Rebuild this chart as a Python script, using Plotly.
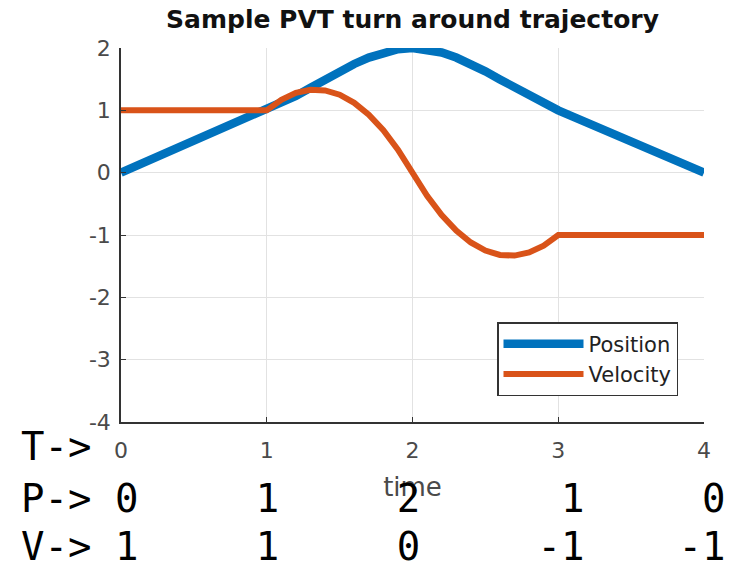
import plotly.graph_objects as go

# ---- data ----
time = [0.0, 0.1, 0.2, 0.3, 0.4, 0.5, 0.6, 0.7, 0.8, 0.9, 1.0,
        1.1, 1.2, 1.3, 1.4, 1.5, 1.6, 1.7, 1.8, 1.9, 2.0,
        2.1, 2.2, 2.3, 2.4, 2.5, 2.6, 2.7, 2.8, 2.9, 3.0,
        3.1, 3.2, 3.3, 3.4, 3.5, 3.6, 3.7, 3.8, 3.9, 4.0]
position = [0.0, 0.1, 0.2, 0.3, 0.4, 0.5, 0.6, 0.7, 0.8, 0.9, 1.0,
            1.109, 1.232, 1.363, 1.496, 1.625, 1.744, 1.847, 1.928, 1.981, 2.0,
            1.981, 1.928, 1.847, 1.744, 1.625, 1.496, 1.363, 1.232, 1.109, 1.0,
            0.9, 0.8, 0.7, 0.6, 0.5, 0.4, 0.3, 0.2, 0.1, 0.0]
velocity = [1.0, 1.0, 1.0, 1.0, 1.0, 1.0, 1.0, 1.0, 1.0, 1.0, 1.0,
            1.17, 1.28, 1.33, 1.32, 1.25, 1.12, 0.93, 0.68, 0.37, 0.0,
            -0.37, -0.68, -0.93, -1.12, -1.25, -1.32, -1.33, -1.28, -1.17, -1.0,
            -1.0, -1.0, -1.0, -1.0, -1.0, -1.0, -1.0, -1.0, -1.0, -1.0]

x_ticks = [0, 1, 2, 3, 4]
y_ticks = [2, 1, 0, -1, -2, -3, -4]

row_labels = ["T->", "P->", "V->"]
P_row = [0, 1, 2, 1, 0]
V_row = [1, 1, 0, -1, -1]

# ---- layout constants ----
W, H = 729, 566
ML, MR, MT, MB = 121, 25, 48, 144
BLUE = "#0072BD"
ORANGE = "#D95319"
AXC = "#333333"
TICKC = "#4a4a4a"
GRID = "#e2e2e2"

fig = go.Figure()
fig.add_trace(go.Scatter(x=time, y=position, mode="lines", name="Position",
                         line=dict(color=BLUE, width=8.5)))
fig.add_trace(go.Scatter(x=time, y=velocity, mode="lines", name="Velocity",
                         line=dict(color=ORANGE, width=6)))

axis_common = dict(
    showline=True, linecolor=AXC, linewidth=1.5, mirror=False,
    ticks="inside", ticklen=5, tickcolor=AXC, tickwidth=1.2,
    showgrid=True, gridcolor=GRID, gridwidth=1, zeroline=False,
    tickfont=dict(family="DejaVu Sans", size=22, color=TICKC),
)

fig.update_xaxes(range=[0, 4], tickvals=x_ticks, ticktext=[str(v) for v in x_ticks],
                 ticklabelstandoff=8,
                 title=dict(text="time", standoff=16,
                            font=dict(family="DejaVu Sans", size=26, color=TICKC)),
                 **axis_common)
fig.update_yaxes(range=[-4, 2], tickvals=y_ticks, ticktext=[str(v) for v in y_ticks],
                 ticklabelstandoff=4,
                 **axis_common)

# monospace rows below the chart (values right-aligned to character cells)
cells = [4, 10, 16, 23, 29]
def build_row(label, values):
    chars = list(label) + ["\u00a0"] * (cells[-1] + 1 - len(label))
    for c, v in zip(cells, values):
        s = str(v)
        for k, ch in enumerate(reversed(s)):
            chars[c - k] = ch
    return "".join(chars)

rows = [row_labels[0], build_row(row_labels[1], P_row), build_row(row_labels[2], V_row)]
row_y = [446, 498, 546]
annotations = []
for txt, yy in zip(rows, row_y):
    annotations.append(dict(
        text=txt, xref="paper", yref="paper",
        x=(20 - ML) / (W - ML - MR), y=(H - MB - yy) / (H - MT - MB),
        xanchor="left", yanchor="middle", showarrow=False, borderpad=0,
        font=dict(family="DejaVu Sans Mono", size=39, color="#000000"),
    ))

fig.update_layout(
    width=W, height=H,
    margin=dict(l=ML, r=MR, t=MT, b=MB),
    paper_bgcolor="white", plot_bgcolor="white",
    title=dict(text="Sample PVT turn around trajectory", x=(ML + (W - ML - MR) / 2) / W,
               xanchor="center", y=1 - 19 / H, yanchor="middle",
               font=dict(family="DejaVu Sans", size=25, color="#111111", weight="bold")),
    legend=dict(x=(678 - ML) / (W - ML - MR), xanchor="right",
                y=(H - MB - 396) / (H - MT - MB), yanchor="bottom",
                bgcolor="white", bordercolor=AXC, borderwidth=1.5,
                font=dict(family="DejaVu Sans", size=21, color="#222222"),
                itemwidth=80, tracegroupgap=0),
    annotations=annotations,
    showlegend=True,
)

fig.write_html("out.html")
